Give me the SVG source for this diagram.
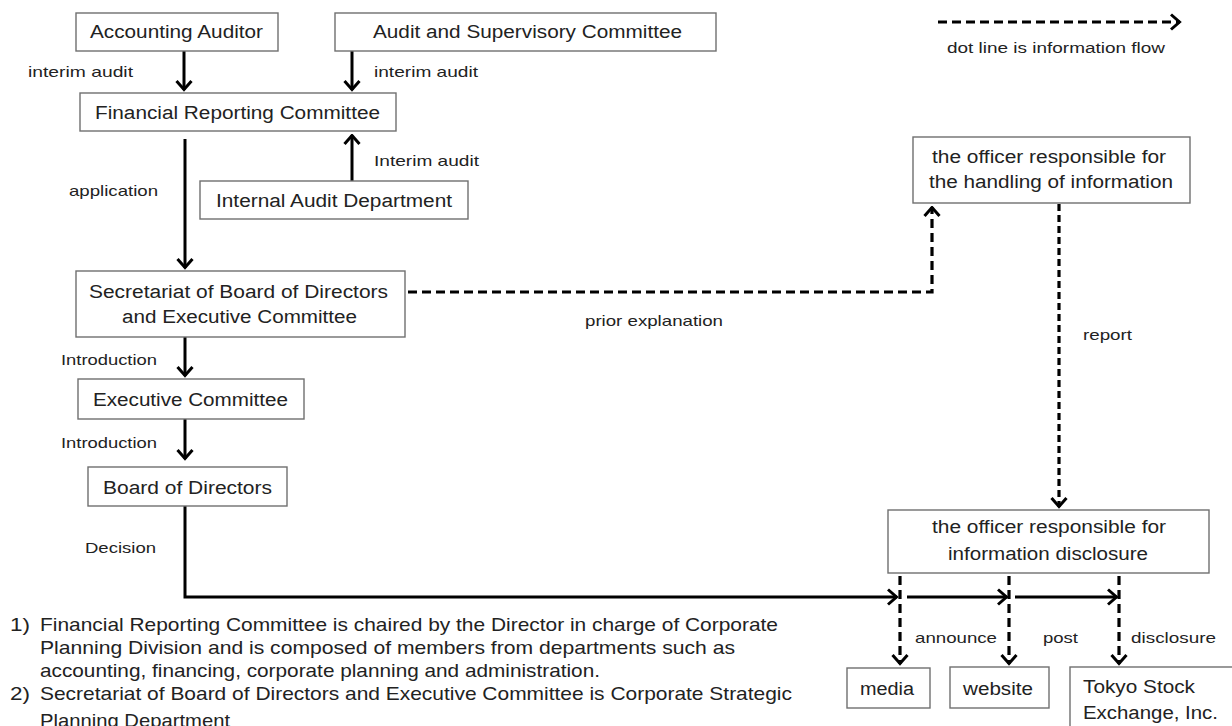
<svg xmlns="http://www.w3.org/2000/svg" width="1232" height="726" viewBox="0 0 1232 726">
<style>
.box{fill:#fff;stroke:#6f6f6f;stroke-width:1.4}
.t{font-family:"Liberation Sans",Arial,sans-serif;fill:#222}
.n{font-size:18px}
.l{font-size:15px}
.f{font-size:19px}
.g{font-size:14px}
.sol{fill:none;stroke:#000;stroke-width:3}
.dash{fill:none;stroke:#000;stroke-width:3.2;stroke-dasharray:9 5}
.dash2{fill:none;stroke:#000;stroke-width:3.2;stroke-dasharray:7 4}
</style>
<defs>
<marker id="ah" viewBox="0 0 12 18" refX="10.5" refY="9" markerWidth="12" markerHeight="18" markerUnits="userSpaceOnUse" orient="auto">
<path d="M1.5,1.5 L10,9 L1.5,16.5" fill="none" stroke="#000" stroke-width="3" stroke-linejoin="miter"/>
</marker>
</defs>
<rect width="1232" height="726" fill="#fff"/>

<g id="connectors">
<path class="sol" d="M184,51 V90" marker-end="url(#ah)"/>
<path class="sol" d="M352,51 V90" marker-end="url(#ah)"/>
<path class="sol" d="M352,181 V135" marker-end="url(#ah)"/>
<path class="sol" d="M185,139 V268" marker-end="url(#ah)"/>
<path class="sol" d="M185,337 V376" marker-end="url(#ah)"/>
<path class="sol" d="M185,419 V459" marker-end="url(#ah)"/>
<path class="sol" d="M185,506 V597 H897" marker-end="url(#ah)"/>
<path class="sol" d="M907,597 H1007" marker-end="url(#ah)"/>
<path class="sol" d="M1015,597 H1117" marker-end="url(#ah)"/>
<path class="dash" d="M408,292 H932 V207" marker-end="url(#ah)"/>
<path class="dash2" d="M1059,204 V507" marker-end="url(#ah)"/>
<path class="dash" d="M900,576 V664" marker-end="url(#ah)"/>
<path class="dash" d="M1009,576 V664" marker-end="url(#ah)"/>
<path class="dash" d="M1119,576 V664" marker-end="url(#ah)"/>
<path class="dash" d="M938,22 H1180" marker-end="url(#ah)"/>
</g>

<g id="labels">
<text class="t l" x="28" y="77" textLength="105" lengthAdjust="spacingAndGlyphs">interim audit</text>
<text class="t l" x="374" y="77" textLength="104" lengthAdjust="spacingAndGlyphs">interim audit</text>
<text class="t l" x="374" y="166" textLength="105" lengthAdjust="spacingAndGlyphs">Interim audit</text>
<text class="t l" x="69" y="196" textLength="89" lengthAdjust="spacingAndGlyphs">application</text>
<text class="t l" x="61" y="365" textLength="96" lengthAdjust="spacingAndGlyphs">Introduction</text>
<text class="t l" x="61" y="448" textLength="96" lengthAdjust="spacingAndGlyphs">Introduction</text>
<text class="t l" x="85" y="553" textLength="71" lengthAdjust="spacingAndGlyphs">Decision</text>
<text class="t l" x="585" y="326" textLength="138" lengthAdjust="spacingAndGlyphs">prior explanation</text>
<text class="t l" x="1083" y="340" textLength="49" lengthAdjust="spacingAndGlyphs">report</text>
<text class="t l" x="915" y="643" textLength="82" lengthAdjust="spacingAndGlyphs">announce</text>
<text class="t l" x="1043" y="643" textLength="35" lengthAdjust="spacingAndGlyphs">post</text>
<text class="t l" x="1131" y="643" textLength="85" lengthAdjust="spacingAndGlyphs">disclosure</text>
<text class="t g" x="947" y="53" textLength="218" lengthAdjust="spacingAndGlyphs">dot line is information flow</text>
</g>

<g id="accounting-auditor">
<rect class="box" x="76" y="13" width="202" height="38"/>
<text class="t n" x="90" y="38" textLength="173" lengthAdjust="spacingAndGlyphs">Accounting Auditor</text>
</g>
<g id="audit-supervisory-committee">
<rect class="box" x="335" y="13" width="381" height="38"/>
<text class="t n" x="373" y="38" textLength="309" lengthAdjust="spacingAndGlyphs">Audit and Supervisory Committee</text>
</g>
<g id="financial-reporting-committee">
<rect class="box" x="80" y="93" width="316" height="38"/>
<text class="t n" x="95" y="119" textLength="285" lengthAdjust="spacingAndGlyphs">Financial Reporting Committee</text>
</g>
<g id="internal-audit-department">
<rect class="box" x="200" y="181" width="268" height="38"/>
<text class="t n" x="216" y="207" textLength="236" lengthAdjust="spacingAndGlyphs">Internal Audit Department</text>
</g>
<g id="secretariat">
<rect class="box" x="76" y="271" width="329" height="66"/>
<text class="t n" x="89" y="298" textLength="299" lengthAdjust="spacingAndGlyphs">Secretariat of Board of Directors</text>
<text class="t n" x="122" y="323" textLength="235" lengthAdjust="spacingAndGlyphs">and Executive  Committee</text>
</g>
<g id="executive-committee">
<rect class="box" x="78" y="379" width="226" height="40"/>
<text class="t n" x="93" y="406" textLength="195" lengthAdjust="spacingAndGlyphs">Executive  Committee</text>
</g>
<g id="board-of-directors">
<rect class="box" x="88" y="467" width="199" height="39"/>
<text class="t n" x="103" y="494" textLength="169" lengthAdjust="spacingAndGlyphs">Board of Directors</text>
</g>
<g id="officer-handling">
<rect class="box" x="913" y="137" width="277" height="66"/>
<text class="t n" x="932" y="163" textLength="234" lengthAdjust="spacingAndGlyphs">the officer responsible for</text>
<text class="t n" x="929" y="188" textLength="244" lengthAdjust="spacingAndGlyphs">the handling  of information</text>
</g>
<g id="officer-disclosure">
<rect class="box" x="888" y="510" width="321" height="63"/>
<text class="t n" x="932" y="533" textLength="234" lengthAdjust="spacingAndGlyphs">the officer responsible for</text>
<text class="t n" x="948" y="560" textLength="200" lengthAdjust="spacingAndGlyphs">information disclosure</text>
</g>
<g id="media">
<rect class="box" x="847" y="668" width="83" height="40"/>
<text class="t n" x="860" y="695" textLength="54" lengthAdjust="spacingAndGlyphs">media</text>
</g>
<g id="website">
<rect class="box" x="950" y="667" width="99" height="41"/>
<text class="t n" x="963" y="695" textLength="70" lengthAdjust="spacingAndGlyphs">website</text>
</g>
<g id="tokyo-stock-exchange">
<rect class="box" x="1070" y="667" width="175" height="70"/>
<text class="t n" x="1083" y="693" textLength="112" lengthAdjust="spacingAndGlyphs">Tokyo Stock</text>
<text class="t n" x="1083" y="719" textLength="135" lengthAdjust="spacingAndGlyphs">Exchange, Inc.</text>
</g>

<g id="footnotes">
<text class="t f" x="10" y="631" textLength="20" lengthAdjust="spacingAndGlyphs">1)</text>
<text class="t f" x="40" y="631" textLength="738" lengthAdjust="spacingAndGlyphs">Financial Reporting Committee is chaired by the Director in charge of Corporate</text>
<text class="t f" x="40" y="654" textLength="695" lengthAdjust="spacingAndGlyphs">Planning Division and is composed of members from departments  such as</text>
<text class="t f" x="40" y="677" textLength="560" lengthAdjust="spacingAndGlyphs">accounting, financing, corporate planning and administration.</text>
<text class="t f" x="10" y="700" textLength="20" lengthAdjust="spacingAndGlyphs">2)</text>
<text class="t f" x="40" y="700" textLength="752" lengthAdjust="spacingAndGlyphs">Secretariat of Board of Directors and Executive Committee is Corporate Strategic</text>
<text class="t f" x="40" y="727" textLength="190" lengthAdjust="spacingAndGlyphs">Planning Department</text>
</g>
</svg>
